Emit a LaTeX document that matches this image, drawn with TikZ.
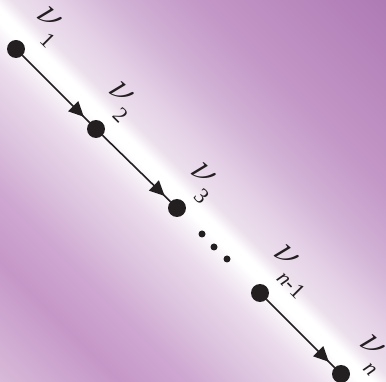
\documentclass[tikz,border=0pt]{standalone}
\usepackage{graphicx}
\usepackage{fontspec}
\newfontfamily\tms{Liberation Serif}
\usetikzlibrary{arrows.meta,decorations.markings}
\pgfdeclarehorizontalshading{bgshade}{100bp}{%
rgb(0bp)=(0.855,0.745,0.859);
rgb(25bp)=(0.855,0.745,0.859);
rgb(27.5bp)=(0.847,0.729,0.851);
rgb(34.58bp)=(0.773,0.592,0.784);
rgb(38.83bp)=(0.812,0.659,0.824);
rgb(42.33bp)=(0.863,0.765,0.871);
rgb(45.92bp)=(0.918,0.855,0.922);
rgb(47.67bp)=(0.965,0.941,0.969);
rgb(48.67bp)=(1,1,1);
rgb(49.5bp)=(1,1,1);
rgb(50.67bp)=(0.925,0.878,0.929);
rgb(53.25bp)=(0.894,0.816,0.902);
rgb(56.75bp)=(0.824,0.702,0.839);
rgb(61.67bp)=(0.765,0.592,0.780);
rgb(72.5bp)=(0.686,0.482,0.710);
rgb(75bp)=(0.675,0.471,0.698);
rgb(100bp)=(0.675,0.471,0.698)}
\definecolor{ink}{RGB}{35,31,32}
\newcommand\bignu{\scalebox{1.62}{\fontsize{24.88pt}{26pt}\selectfont$\nu$}}
\newcommand\vsub[1]{\rlap{\kern-2pt\smash{\raisebox{-15pt}{\fontsize{22pt}{23pt}\selectfont #1}}}}
\tikzset{
  vert/.style={circle, fill=ink, inner sep=0pt, outer sep=0pt, minimum size=18pt},
  dotnode/.style={circle, fill=ink, inner sep=0pt, outer sep=0pt, minimum size=7pt},
  lab/.style={rotate=-45, inner sep=0pt, outer sep=0pt, text=ink, font=\tms},
  edgeline/.style={draw=ink, line width=1.6pt, postaction={decorate},
    decoration={markings, mark=at position -8pt with {\arrow[ink]{Triangle[length=15pt,width=14pt]}}}}
}
\begin{document}
\begin{tikzpicture}[x=1pt,y=-1pt]
\useasboundingbox (0,0) rectangle (386,382);
\begin{scope}
\clip (0,0) rectangle (386,382);
\begin{scope}[transform canvas={rotate around={45:(192,192)}}]
\shade[shading=bgshade] (-108,-108) rectangle (492,492);
\end{scope}
\end{scope}
\node[vert] (v1) at (16,49) {};
\node[vert] (v2) at (96,129) {};
\node[vert] (v3) at (177,208) {};
\node[vert] (vm) at (260,293) {};
\node[vert] (vn) at (341,374) {};
\node[dotnode] (d1) at (202,234) {};
\node[dotnode] (d2) at (214,247) {};
\node[dotnode] (d3) at (227,259) {};
\draw[edgeline] (v1) -- (v2);
\draw[edgeline] (v2) -- (v3);
\draw[edgeline] (vm) -- (vn);
\node[lab] (l1) at (49,18.5) {\bignu\vsub{1}};
\node[lab] (l2) at (121.7,93.3) {\bignu\vsub{2}};
\node[lab] (l3) at (203,174) {\bignu\vsub{3}};
\node[lab] (lm) at (286,256) {\bignu\vsub{\textit{n}-1}};
\node[lab] (ln) at (372.5,346) {\bignu\vsub{\textit{n}}};
\end{tikzpicture}
\end{document}
